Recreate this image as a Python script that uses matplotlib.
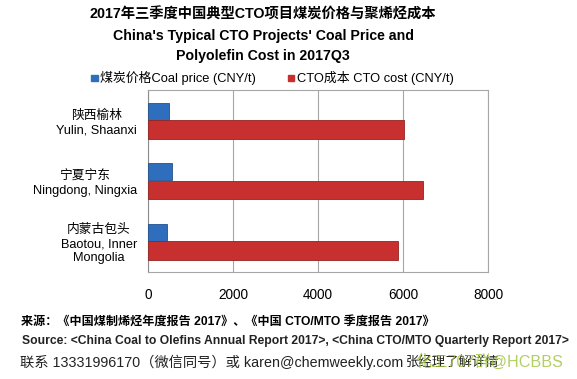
import matplotlib
matplotlib.use("Agg")
import matplotlib.pyplot as plt
import numpy as np

plt.rcParams['font.family'] = ['Liberation Sans', 'Noto Sans CJK SC', 'DejaVu Sans']

# data
regions = ['陕西榆林\nYulin, Shaanxi', '宁夏宁东\nNingdong, Ningxia', '内蒙古包头\nBaotou, Inner\nMongolia']
coal_price = [490, 575, 455]
cto_cost = [6020, 6460, 5870]
xticks = [0, 2000, 4000, 6000, 8000]

blue = '#2f6dbd'
red = '#c8302f'

fig = plt.figure(figsize=(5.77, 3.79), dpi=100)
ax = fig.add_axes([0.2565, 0.2831, 0.5894, 0.4794])

y = np.arange(len(regions))
ax.barh(y - 0.15, coal_price, height=0.28, color=blue, edgecolor='#23528f', linewidth=0.6, zorder=3)
ax.barh(y + 0.15, cto_cost, height=0.31, color=red, edgecolor='#952322', linewidth=0.6, zorder=3)

ax.set_ylim(2.5, -0.5)
ax.set_xlim(0, 8000)
ax.set_xticks(xticks)
ax.set_xticklabels([str(t) for t in xticks], fontsize=9.8)
ax.set_yticks(y)
ax.set_yticklabels(regions, fontsize=9.2, linespacing=1.25, ha='right', multialignment='center')
ax.tick_params(axis='y', length=0, pad=8)
ax.tick_params(axis='x', length=0, pad=12)
ax.xaxis.grid(True, color='#a6a6a6', linewidth=0.8, zorder=0)
for s in ['top', 'right', 'bottom']:
    ax.spines[s].set_color('#a6a6a6')
    ax.spines[s].set_linewidth(0.8)
ax.spines['left'].set_color('#8c8c8c')
ax.spines['left'].set_linewidth(0.8)

# title
fig.text(0.456, 0.962, '2017年三季度中国典型CTO项目煤炭价格与聚烯烃成本', ha='center', va='center',
         fontsize=10.3, fontweight='bold')
fig.text(0.456, 0.906, "China's Typical CTO Projects' Coal Price and", ha='center', va='center',
         fontsize=10.2, fontweight='bold')
fig.text(0.456, 0.853, 'Polyolefin Cost in 2017Q3', ha='center', va='center',
         fontsize=10.2, fontweight='bold')

# legend
fig.patches.append(plt.Rectangle((0.158, 0.785), 0.011, 0.017, transform=fig.transFigure, color=blue))
fig.text(0.173, 0.794, '煤炭价格Coal price (CNY/t)', ha='left', va='center', fontsize=9.3)
fig.patches.append(plt.Rectangle((0.499, 0.785), 0.011, 0.017, transform=fig.transFigure, color=red))
fig.text(0.514, 0.794, 'CTO成本 CTO cost (CNY/t)', ha='left', va='center', fontsize=9.3)

# footer
fig.text(0.036, 0.148, '来源：《中国煤制烯烃年度报告 2017》、《中国 CTO/MTO 季度报告 2017》',
         ha='left', va='center', fontsize=8.7, fontweight='bold')
fig.text(0.038, 0.100, 'Source: <China Coal to Olefins Annual Report 2017>, <China CTO/MTO Quarterly Report 2017>',
         ha='left', va='center', fontsize=8.7, fontweight='bold', color='#222222')
fig.text(0.034, 0.045, '联系 13331996170（微信同号）或 karen@chemweekly.com',
         ha='left', va='center', fontsize=10.3, color='#222222')
fig.text(0.704, 0.045, '张经理了解详情', ha='left', va='center', fontsize=9.6, color='#222222')
fig.text(0.720, 0.045, '化工707群@HCBBS', ha='left', va='center', fontsize=11.6,
         color='#9fc33a', alpha=0.8)

fig.savefig('out.png', dpi=100)
